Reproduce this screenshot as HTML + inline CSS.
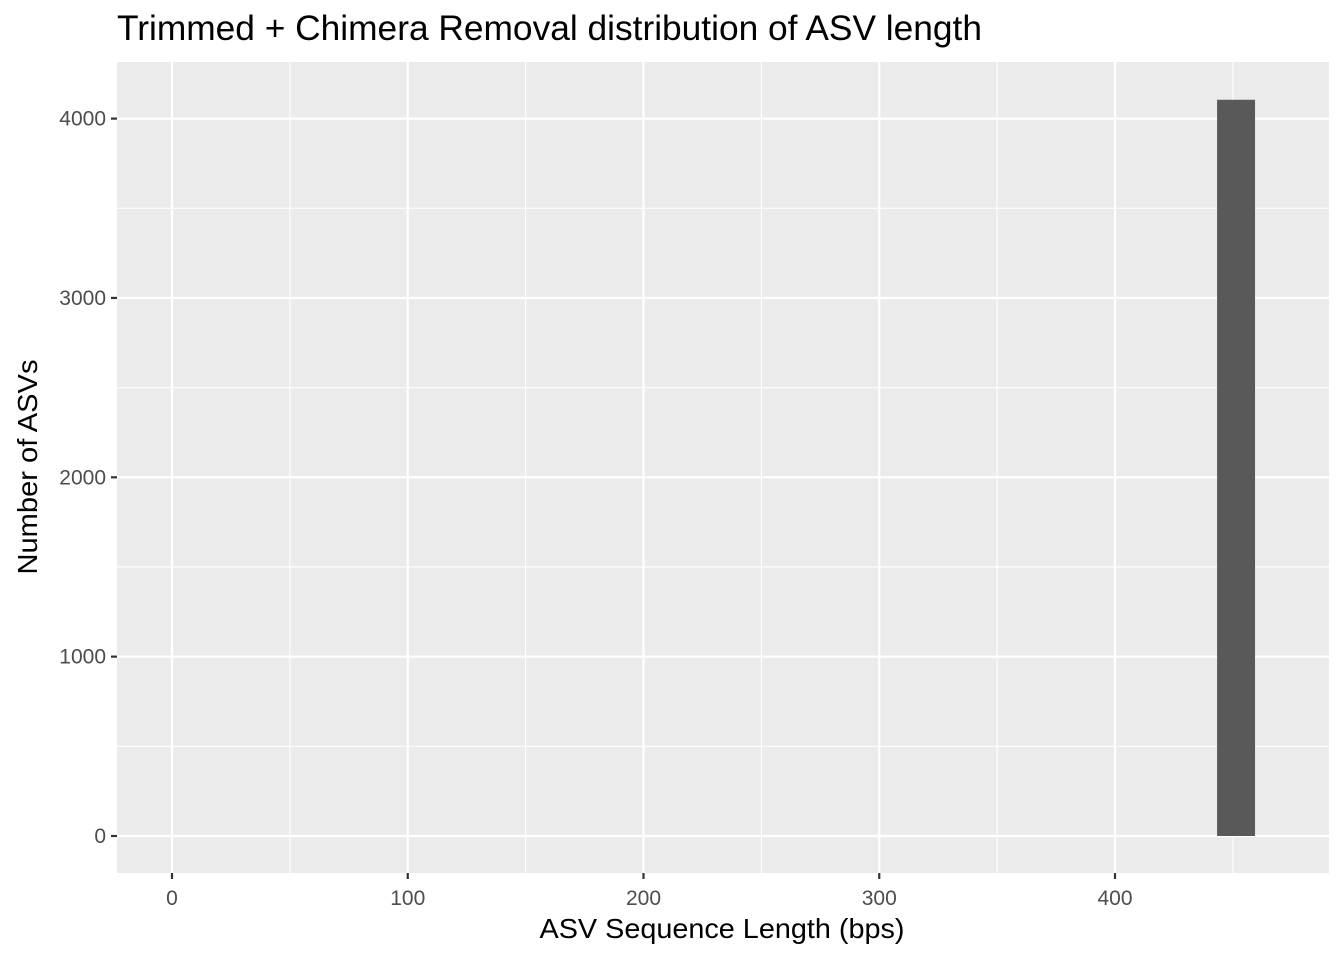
<!DOCTYPE html>
<html><head><meta charset="utf-8"><style>
body{margin:0;background:#fff;}
svg text{font-family:"Liberation Sans",Arial,sans-serif;}
</style></head><body>
<svg id="chart" width="1344" height="960" xmlns="http://www.w3.org/2000/svg">
<text x="117" y="40" font-size="35" textLength="865" lengthAdjust="spacingAndGlyphs" fill="#000">Trimmed + Chimera Removal distribution of ASV length</text>
<rect x="117" y="62" width="1212" height="811" fill="#ebebeb"/>
<g id="grid"></g>
<g id="bars"></g>
<g id="axes"></g>
<text x="722" y="938" font-size="28" textLength="365" lengthAdjust="spacingAndGlyphs" text-anchor="middle" fill="#000">ASV Sequence Length (bps)</text>
<text transform="translate(37,467) rotate(-90)" font-size="28" textLength="215" lengthAdjust="spacingAndGlyphs" text-anchor="middle" fill="#000">Number of ASVs</text>
</svg>
<script>
const binStarts = [443.3];
const binWidths = [16.1];
const counts = [4105];
const xTicks = [0, 100, 200, 300, 400];
const yTicks = [0, 1000, 2000, 3000, 4000];
const xMinor = [50, 150, 250, 350, 450];
const yMinor = [500, 1500, 2500, 3500];

const X0 = 172, XS = 2.3575;
const Y0 = 836, YS = 0.17935;
const xs = v => X0 + v * XS;
const ys = v => Y0 - v * YS;
const NS = "http://www.w3.org/2000/svg";
const L = 117, R = 1329, T = 62, B = 873;
function mk(tag, attrs, parent) {
  const e = document.createElementNS(NS, tag);
  for (const k in attrs) e.setAttribute(k, attrs[k]);
  parent.appendChild(e);
  return e;
}
const grid = document.getElementById('grid');
const bars = document.getElementById('bars');
const axes = document.getElementById('axes');
xMinor.forEach(v => {
  const l = mk('line', {x1: xs(v), x2: xs(v), y1: T, y2: B, stroke: '#fff', 'stroke-width': 1.1}, grid);
  
  
});
yMinor.forEach(v => {
  const l = mk('line', {x1: L, x2: R, y1: ys(v), y2: ys(v), stroke: '#fff', 'stroke-width': 1.1}, grid);
  
  
});
xTicks.forEach(v => {
  const l = mk('line', {x1: xs(v), x2: xs(v), y1: T, y2: B, stroke: '#fff', 'stroke-width': 2.2}, grid);
  
  
  const t = mk('line', {x1: xs(v), x2: xs(v), y1: B, y2: B + 6, stroke: '#333', 'stroke-width': 2.2}, axes);
  
  
  const tx = mk('text', {x: xs(v), y: B + 32, 'font-size': 21, 'text-anchor': 'middle', fill: '#4d4d4d'}, axes);
  tx.textContent = v;
  
  
});
yTicks.forEach(v => {
  const l = mk('line', {x1: L, x2: R, y1: ys(v), y2: ys(v), stroke: '#fff', 'stroke-width': 2.2}, grid);
  
  
  const t = mk('line', {x1: L - 6, x2: L, y1: ys(v), y2: ys(v), stroke: '#333', 'stroke-width': 2.2}, axes);
  
  
  const tx = mk('text', {x: L - 11, y: ys(v) + 7, 'font-size': 21, 'text-anchor': 'end', fill: '#4d4d4d'}, axes);
  tx.textContent = v;
  
  
});
counts.forEach((c, i) => {
  const x1 = xs(binStarts[i]), x2 = xs(binStarts[i] + binWidths[i]);
  const r = mk('rect', {x: x1, y: ys(c), width: x2 - x1, height: ys(0) - ys(c), fill: '#595959'}, bars);
  
  
});
</script>
</body></html>
